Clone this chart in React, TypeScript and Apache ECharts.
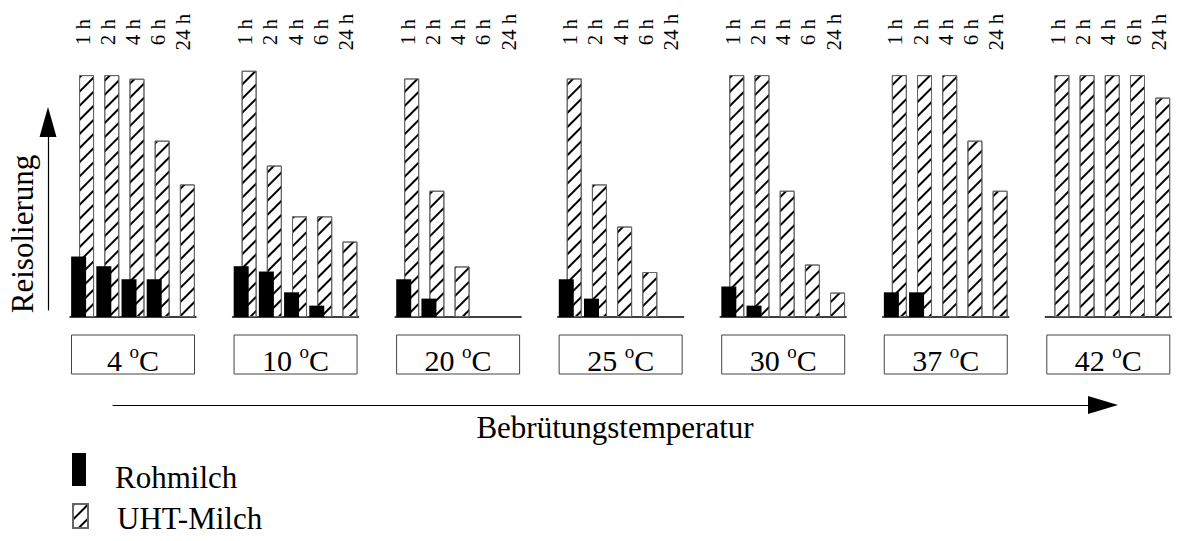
import React, { useEffect, useRef } from 'react';
import * as echarts from 'echarts';

const times = ['1 h', '2 h', '4 h', '6 h', '24 h'];
const temperatures = ['4', '10', '20', '25', '30', '37', '42'];

const roh4 = [25, 21, 15.6, 15.6, 0];
const roh10 = [21, 18.8, 10.2, 4.7, 0];
const roh20 = [15.6, 7.6, 0, 0, 0];
const roh25 = [15.6, 7.6, 0, 0, 0];
const roh30 = [12.6, 4.7, 0, 0, 0];
const roh37 = [10.2, 10.2, 0, 0, 0];
const roh42 = [0, 0, 0, 0, 0];

const uht4 = [100, 100, 98.5, 72.9, 54.8];
const uht10 = [101.8, 62.6, 41.6, 41.6, 31.2];
const uht20 = [98.6, 52.2, 20.9, 0, 0];
const uht25 = [98.6, 54.8, 37.4, 18.6, 0];
const uht30 = [100, 100, 52.2, 21.7, 10.1];
const uht37 = [100, 100, 100, 72.9, 52.2];
const uht42 = [100, 100, 100, 100, 90.7];

const rohmilch = [roh4, roh10, roh20, roh25, roh30, roh37, roh42];
const uhtMilch = [uht4, uht10, uht20, uht25, uht30, uht37, uht42];

const FONT = '"Liberation Serif", "Times New Roman", serif';

const hatch = {
  symbol: 'rect',
  symbolSize: 1,
  dashArrayX: [1, 0],
  dashArrayY: [1.8, 7.4],
  rotation: -Math.PI / 4,
  color: '#000',
};

function buildOption() {
  const grids: any[] = [];
  const xAxes: any[] = [];
  const yAxes: any[] = [];
  const series: any[] = [];
  temperatures.forEach((t, i) => {
    grids.push({ left: 70 + i * 162.55, width: 126, top: 63, height: 254 });
    xAxes.push({
      type: 'category',
      gridIndex: i,
      position: 'bottom',
      data: times,
      axisLine: { show: true, onZero: false, lineStyle: { color: '#000', width: 1.5 } },
      axisTick: { show: false },
      axisLabel: { show: false },
      name: `${t} {sup|o}C`,
      nameLocation: 'middle',
      nameGap: 18,
      nameTruncate: { maxWidth: 121, ellipsis: '' },
      nameTextStyle: {
        fontFamily: FONT,
        fontSize: 30,
        color: '#000',
        width: 121,
        lineHeight: 27,
        padding: [12, 1, 0, 1],
        borderColor: '#444',
        borderWidth: 1,
        align: 'center',
        verticalAlign: 'top',
        rich: {
          sup: { fontFamily: FONT, fontSize: 19, height: 8, lineHeight: 8, verticalAlign: 'top', color: '#000' },
        },
      },
    });
    xAxes.push({
      type: 'category',
      gridIndex: i,
      position: 'top',
      data: times,
      axisLine: { show: false },
      axisTick: { show: false },
      axisLabel: {
        show: true,
        interval: 0,
        rotate: 90,
        margin: 31,
        align: 'center',
        verticalAlign: 'middle',
        fontFamily: FONT,
        fontSize: 21,
        color: '#000',
        padding: [0, 0, 6, 0],
      },
    });
    yAxes.push({
      type: 'value',
      gridIndex: i,
      min: 0,
      max: 105,
      show: false,
    });
    series.push({
      type: 'bar',
      name: 'Rohmilch',
      xAxisIndex: 2 * i,
      yAxisIndex: i,
      data: rohmilch[i].map((v) => (v === 0 ? null : v)),
      barWidth: 15,
      barGap: '-47%',
      z: 3,
      itemStyle: { color: '#000' },
    });
    series.push({
      type: 'bar',
      name: 'UHT-Milch',
      xAxisIndex: 2 * i,
      yAxisIndex: i,
      data: uhtMilch[i].map((v) => (v === 0 ? null : v)),
      barWidth: 15,
      barGap: '-47%',
      z: 2,
      itemStyle: { color: '#fff', borderColor: '#666', borderWidth: 1, decal: hatch },
    });
  });

  // vertical arrow grid
  grids.push({ left: 48, top: 122, width: 10, height: 188 });
  xAxes.push({ type: 'value', gridIndex: 7, show: false });
  yAxes.push({
    type: 'value',
    gridIndex: 7,
    axisLine: {
      show: true,
      symbol: ['none', 'triangle'],
      symbolSize: [17, 30],
      lineStyle: { color: '#000', width: 1.2 },
    },
    axisTick: { show: false },
    axisLabel: { show: false },
    splitLine: { show: false },
    name: 'Reisolierung',
    nameLocation: 'middle',
    nameGap: 25.5,
    nameTextStyle: {
      fontFamily: FONT,
      fontSize: 31,
      color: '#000',
      verticalAlign: 'middle',
      padding: [0, 36, 0, 0],
    },
  });

  // horizontal arrow grid
  grids.push({ left: 113, width: 990, top: 395, height: 10 });
  xAxes.push({
    type: 'value',
    gridIndex: 8,
    axisLine: {
      show: true,
      onZero: false,
      symbol: ['none', 'triangle'],
      symbolSize: [18, 30],
      lineStyle: { color: '#000', width: 1.2 },
    },
    axisTick: { show: false },
    axisLabel: { show: false },
    splitLine: { show: false },
    name: 'Bebrütungstemperatur',
    nameLocation: 'middle',
    nameGap: 22,
    nameTextStyle: {
      fontFamily: FONT,
      fontSize: 31,
      color: '#000',
      verticalAlign: 'middle',
      padding: [0, 0, 0, 14],
    },
  });
  yAxes.push({ type: 'value', gridIndex: 8, show: false });

  return {
    animation: false,
    backgroundColor: '#fff',
    grid: grids,
    xAxis: xAxes,
    yAxis: yAxes,
    series,
    legend: [
      {
        data: ['Rohmilch'],
        left: 67,
        top: 448,
        icon: 'rect',
        itemWidth: 14,
        itemHeight: 33,
        selectedMode: false,
        formatter: '{a|{name}}',
        textStyle: {
          fontFamily: FONT,
          fontSize: 31,
          color: '#000',
          padding: [0, 0, 0, 24],
          rich: { a: { fontFamily: FONT, fontSize: 31, color: '#000', padding: [15, 0, 0, 0] } },
        },
      },
      {
        data: ['UHT-Milch'],
        left: 67,
        top: 498,
        icon: 'rect',
        itemWidth: 15,
        itemHeight: 24,
        selectedMode: false,
        formatter: '{a|{name}}',
        textStyle: {
          fontFamily: FONT,
          fontSize: 31,
          color: '#000',
          padding: [0, 0, 0, 24],
          rich: { a: { fontFamily: FONT, fontSize: 31, color: '#000', padding: [5, 0, 0, 0] } },
        },
      },
    ],
  };
}

export default function App() {
  const ref = useRef<HTMLDivElement>(null);
  useEffect(() => {
    if (!ref.current) return;
    const chart = echarts.init(ref.current, undefined, { renderer: 'svg' });
    chart.setOption(buildOption() as any);
    return () => chart.dispose();
  }, []);
  return (
    <div
      ref={ref}
      style={{ position: 'fixed', left: 0, top: 0, width: 1178, height: 541, background: '#fff' }}
    />
  );
}
